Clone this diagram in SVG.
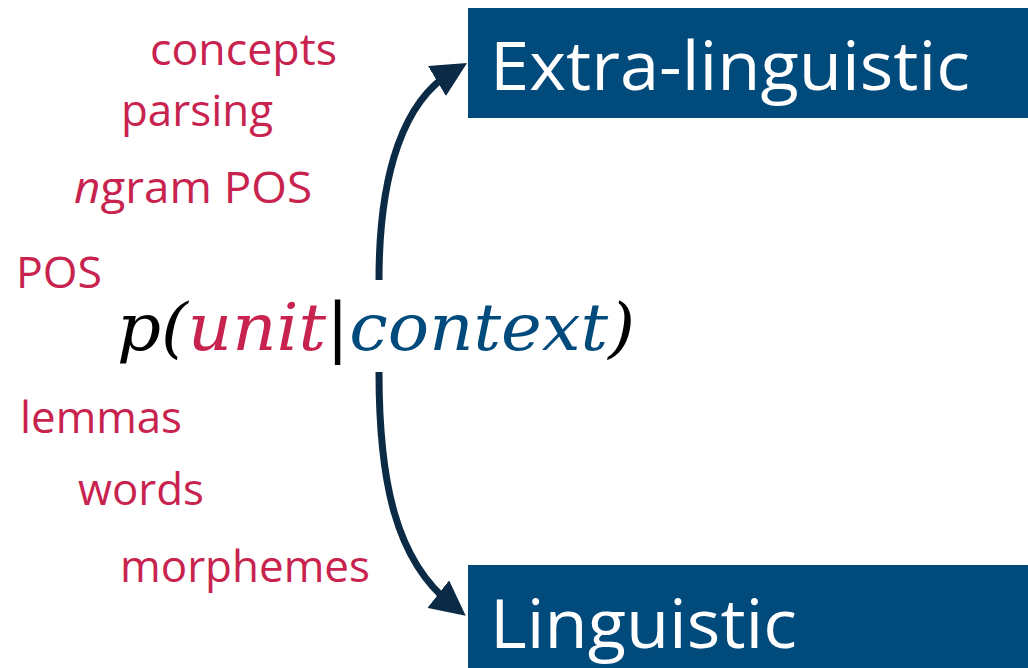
<svg xmlns="http://www.w3.org/2000/svg" width="1028" height="668" viewBox="0 0 1028 668">
<style>
.lbl{font-family:"Open Sans","Noto Sans",sans-serif;font-size:44px;fill:#C8234F}
.box{fill:#004A7C}
.bt{font-family:"Open Sans","Noto Sans",sans-serif;font-size:68px;fill:#ffffff}
.conn{fill:none;stroke:#0B2A45;stroke-width:7}
.math{font-family:"DejaVu Serif","Liberation Serif",serif;font-style:italic;font-size:66px}
</style>
<defs>
<marker id="ah" markerWidth="5" markerHeight="5" refX="2.5" refY="2.5" orient="auto" markerUnits="strokeWidth">
<path d="M0,0 L5,2.5 L0,5 Z" fill="#0B2A45"/>
</marker>
</defs>
<rect width="1028" height="668" fill="#ffffff"/>
<g id="extra">
<rect class="box" x="468" y="8" width="560" height="110"/>
<text class="bt" x="490" y="90" textLength="480" lengthAdjust="spacingAndGlyphs">Extra-linguistic</text>
</g>
<g id="linguistic">
<rect class="box" x="468" y="565" width="560" height="103"/>
<text class="bt" x="490" y="648" textLength="307" lengthAdjust="spacingAndGlyphs">Linguistic</text>
</g>
<g id="formula">
<text class="math" x="117" y="350" textLength="518" lengthAdjust="spacingAndGlyphs"><tspan fill="#000000">p(</tspan><tspan fill="#C8234F">unit</tspan><tspan fill="#000000" font-style="normal">|</tspan><tspan fill="#004A7C">context</tspan><tspan fill="#000000">)</tspan></text>
</g>
<g id="units">
<text class="lbl" x="150" y="65" textLength="187" lengthAdjust="spacingAndGlyphs">concepts</text>
<text class="lbl" x="121" y="126" textLength="152" lengthAdjust="spacingAndGlyphs">parsing</text>
<text class="lbl" x="74" y="203" textLength="238" lengthAdjust="spacingAndGlyphs"><tspan font-style="italic">n</tspan>gram POS</text>
<text class="lbl" x="16" y="288" textLength="86" lengthAdjust="spacingAndGlyphs">POS</text>
<text class="lbl" x="20" y="433" textLength="162" lengthAdjust="spacingAndGlyphs">lemmas</text>
<text class="lbl" x="78" y="505" textLength="126" lengthAdjust="spacingAndGlyphs">words</text>
<text class="lbl" x="120" y="582" textLength="250" lengthAdjust="spacingAndGlyphs">morphemes</text>
</g>
<g id="connectors">
<path class="conn" d="M379,280 C379,170 405,100 452,72" marker-end="url(#ah)"/>
<path class="conn" d="M379,372 C379,480 395,560 452,605" marker-end="url(#ah)"/>
</g>
</svg>
